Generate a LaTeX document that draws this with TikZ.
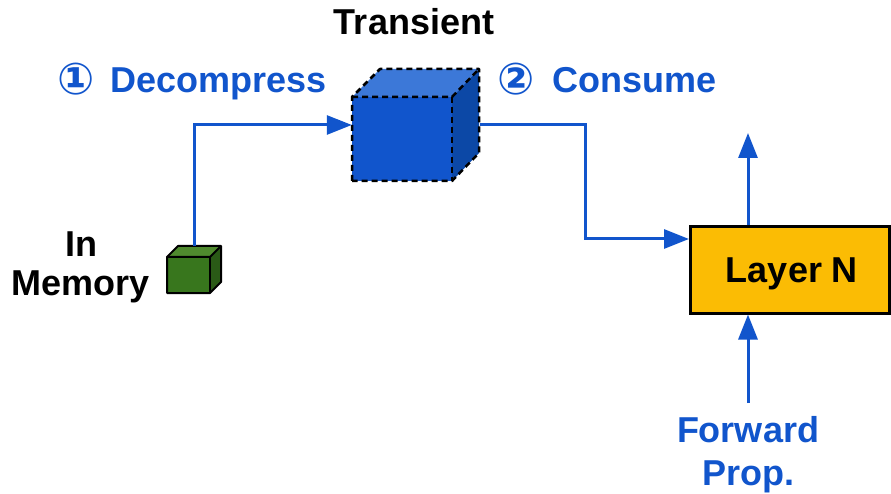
\documentclass[tikz,border=0pt]{standalone}
\usepackage{fontspec}
\setmainfont{Liberation Sans}
\newfontfamily\circfont{DejaVu Sans}
\usetikzlibrary{arrows.meta}

\definecolor{flowblue}{HTML}{1155CC}
\definecolor{cubefront}{HTML}{1155CC}
\definecolor{cubetop}{HTML}{3C78D8}
\definecolor{cubeside}{HTML}{0C48A6}
\definecolor{memfront}{HTML}{38761D}
\definecolor{memtop}{HTML}{4F8A2E}
\definecolor{memside}{HTML}{2A5A16}
\definecolor{layerfill}{HTML}{FBBC04}

\tikzset{
  big/.style={font=\fontsize{36}{40}\selectfont\bfseries},
  flow/.style={draw=flowblue, line width=3pt, line join=miter,
    -{Triangle[length=25pt,width=19pt]}},
  transedge/.style={draw=black, line width=2.5pt, dash pattern=on 6pt off 4pt, line join=round},
  memedge/.style={draw=black, line width=2pt, line join=round},
  layerbox/.style={draw=black, line width=3pt, fill=layerfill, inner sep=0pt,
    minimum width=199pt, minimum height=86pt, text height=25.8pt, text depth=0pt},
  bluetext/.style={big, text=flowblue, inner sep=0pt},
  blacktext/.style={big, text=black, inner sep=0pt}
}

\begin{document}
\begin{tikzpicture}[x=1pt, y=-1pt]
\useasboundingbox (0,0) rectangle (891,494);

% transient (decompressed) cube
\fill[cubetop] (352,97) -- (380,69) -- (479,69) -- (452,97) -- cycle;
\fill[cubeside] (452,97) -- (479,69) -- (479,153) -- (452,181) -- cycle;
\node[fill=cubefront, minimum width=100pt, minimum height=84pt, inner sep=0pt]
  (trans) at (402,139) {};
\draw[transedge] (352,181) -- (352,97) -- (380,69) -- (479,69) -- (479,153)
  -- (452,181) -- cycle;
\draw[transedge] (352,97) -- (452,97) -- (479,69);
\draw[transedge] (452,97) -- (452,181);

% compressed cube in memory
\fill[memtop] (167,257) -- (178,246) -- (221,246) -- (210,257) -- cycle;
\fill[memside] (210,257) -- (221,246) -- (221,282) -- (210,293) -- cycle;
\node[fill=memfront, minimum width=43pt, minimum height=36pt, inner sep=0pt]
  (mem) at (188.5,275) {};
\draw[memedge] (167,293) -- (167,257) -- (178,246) -- (221,246) -- (221,282)
  -- (210,293) -- cycle;
\draw[memedge] (167,257) -- (210,257) -- (221,246);
\draw[memedge] (210,257) -- (210,293);

% layer
\node[layerbox, big] (layer) at (789.5,270) {\hspace*{5pt}Layer N};

% labels
\node[blacktext, anchor=base] (translbl) at (414,35) {Transient};
\node[blacktext, anchor=north, align=center, font=\fontsize{36}{38.5}\selectfont\bfseries]
  (memlbl) at (81,232) {In\\Memory};
\node[bluetext, anchor=base west] (declbl) at (57,93)
  {\makebox[53pt][l]{\circfont\fontsize{44}{44}\selectfont\raisebox{-1.5pt}{①}}Decompress};
\node[bluetext, anchor=base west] (conlbl) at (497,93)
  {\makebox[55pt][l]{\circfont\fontsize{44}{44}\selectfont\raisebox{-1.5pt}{②}}Consume};
\node[bluetext, anchor=north, align=center, font=\fontsize{36}{43}\selectfont\bfseries]
  (fwdlbl) at (748,416) {Forward\\Prop.};

% connectors
\coordinate (memtopc) at (194,246);
\coordinate (decbend) at (194,125);
\coordinate (consfrom) at (480,125);
\coordinate (consbend) at (585,125);
\coordinate (layerin) at (689,239);
\coordinate (outtip) at (748,133);
\coordinate (fwdfrom) at (748,403);

\draw[flow] (memtopc) -- (decbend) -- (decbend -| trans.west);
\draw[flow] (consfrom) -- (consbend) |- (layerin);
\draw[flow] (outtip |- layer.north) -- (outtip);
\draw[flow] (fwdfrom) -- (fwdfrom |- layer.south);
\end{tikzpicture}
\end{document}
